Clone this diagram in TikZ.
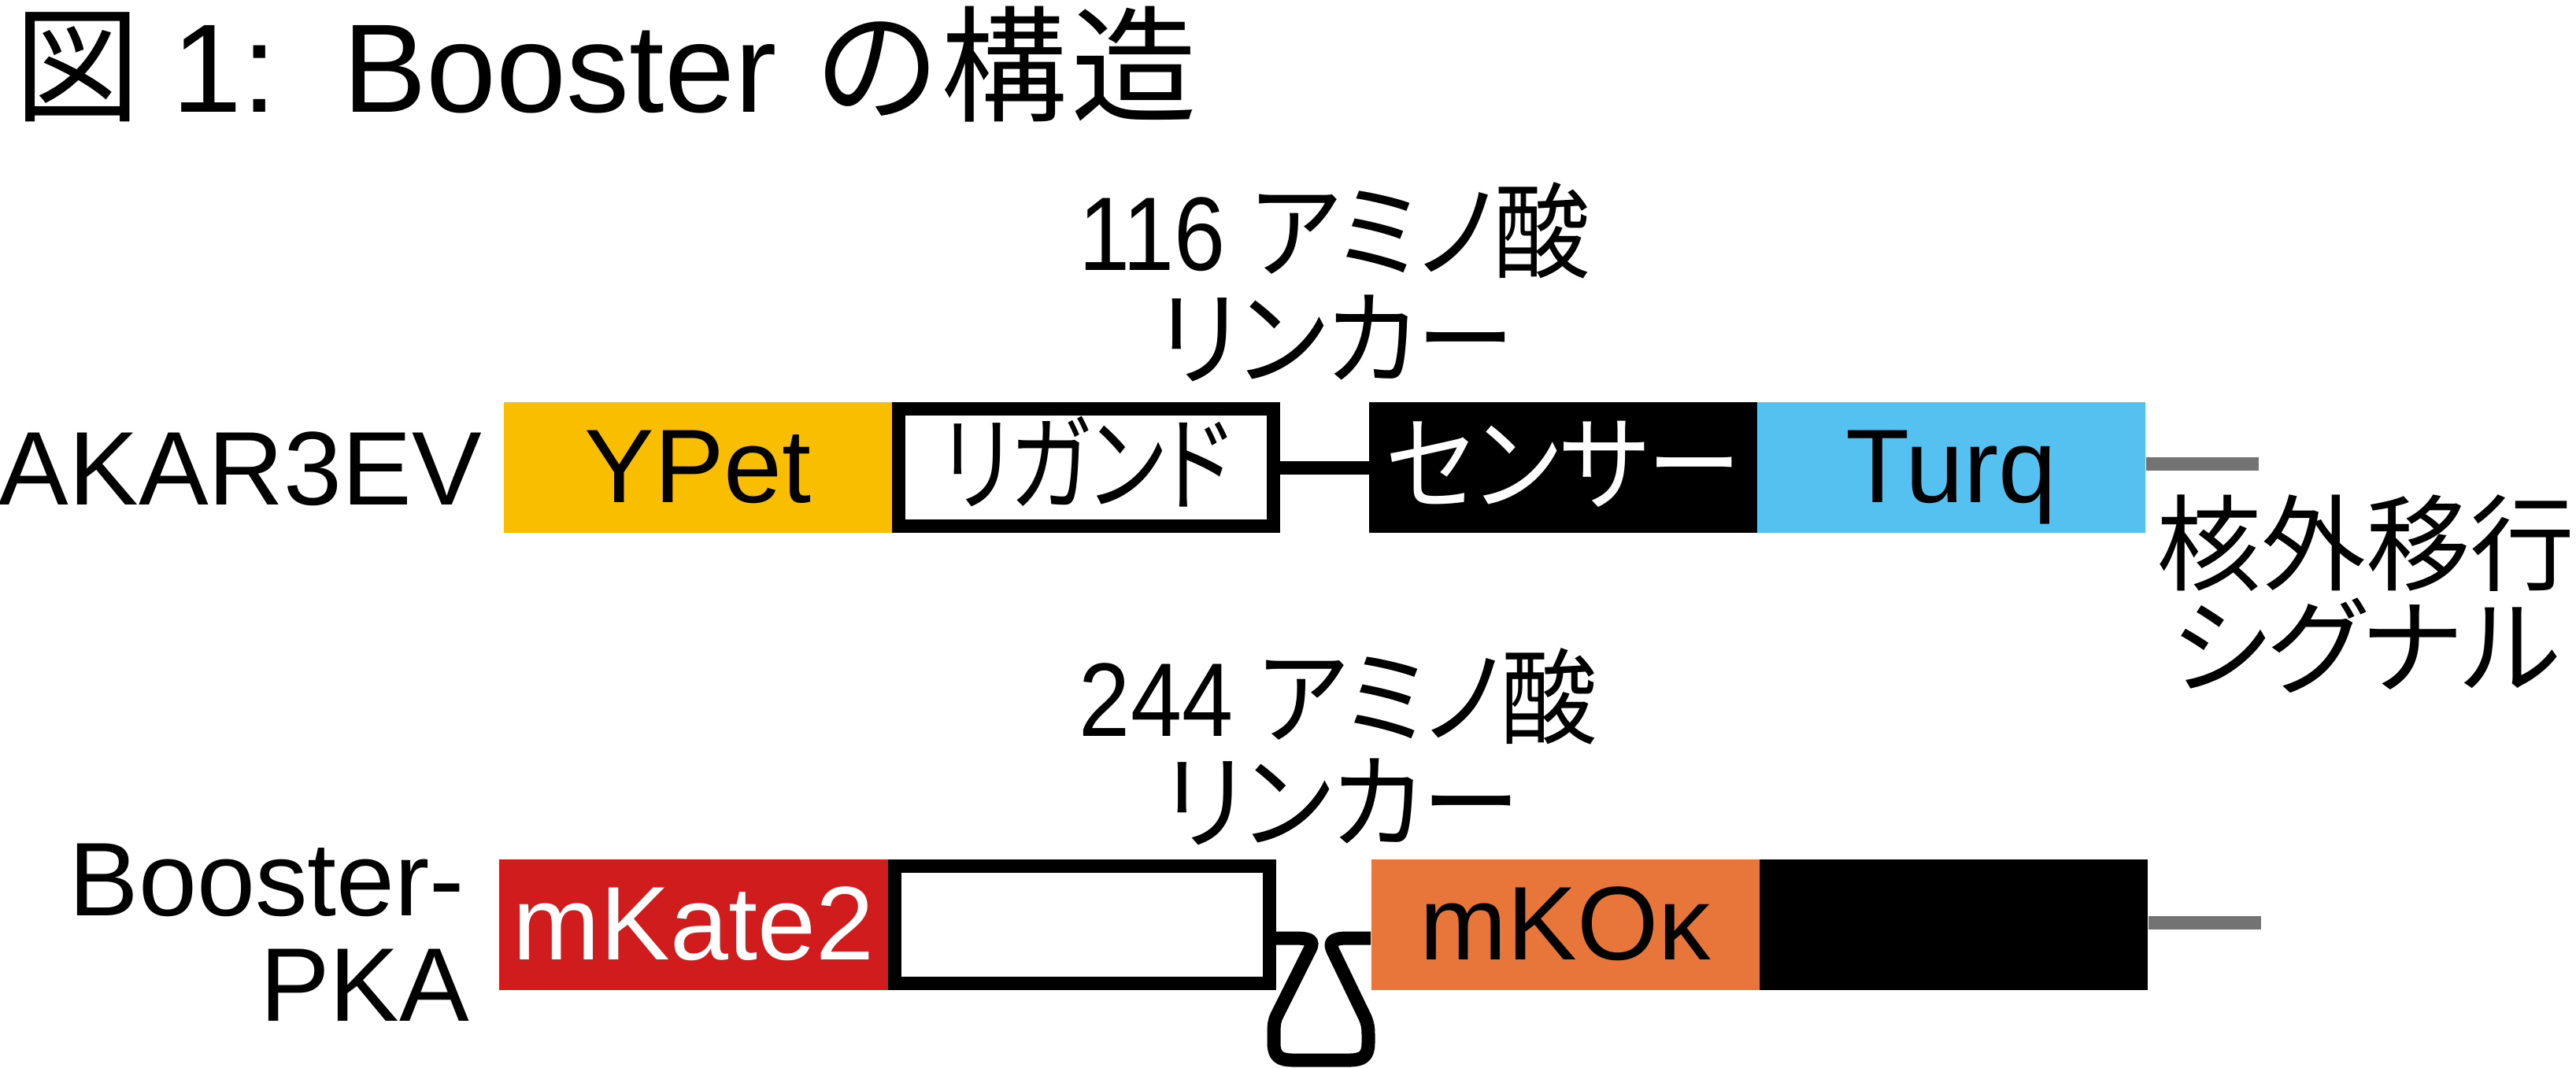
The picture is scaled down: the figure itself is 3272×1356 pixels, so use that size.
\documentclass[tikz,border=0pt]{standalone}
\usepackage{graphicx}
\usepackage{fontspec}
\setmainfont{Liberation Sans}
\newfontfamily\jp[RawFeature=+palt]{Noto Sans CJK JP}
\usetikzlibrary{calc}
\newcommand\lblfont{\fontsize{37.8}{40}\selectfont}
\newcommand\ttlfont{\fontsize{45.5}{48}\selectfont}
\newcommand\narrow[2]{\scalebox{#1}[1]{#2}}
\definecolor{ypetc}{RGB}{249,190,0}
\definecolor{turqc}{RGB}{85,193,240}
\definecolor{kate}{RGB}{208,28,28}
\definecolor{mkoc}{RGB}{232,118,58}
\definecolor{sigc}{RGB}{115,115,115}
\tikzset{
  box/.style={rectangle, minimum width=4.93cm, minimum height=1.66cm, inner sep=0pt,
              text height=0.88cm, text depth=0pt, font=\lblfont},
  obox/.style={box, draw=black, line width=0.17cm, fill=white,
               minimum width=4.76cm, minimum height=1.49cm},
  lbl/.style={inner sep=0pt, font=\lblfont},
  link/.style={line width=0.17cm, line join=round},
  sig/.style={line width=0.17cm, draw=sigc},
}
\begin{document}
\begin{tikzpicture}[x=0.01cm, y=-0.01cm]
\useasboundingbox (0,0) rectangle (3272,1356);
% title
\node[anchor=base west, inner sep=0pt, font=\ttlfont] (title) at (18,142)
  {{\jp 図}\hspace{0.40cm}1:\hspace{0.83cm}Booster\hspace{0.5cm}{\jp の\hspace{0.05cm}構\hspace{0.05cm}造}};
% top row
\node[box, fill=ypetc] (ypet) at (886.5,594) {YPet};
\node[obox] (lig) at (1379.5,594) {\narrow{0.8}{\jp リガンド}};
\node[box, fill=black, text=white] (sen) at (1986,594) {\narrow{0.9}{\jp センサー}};
\node[box, fill=turqc] (turq) at (2478.5,594) {Turq};
\draw[link] (lig.east) -- (sen.west);
\coordinate (tsig) at (2869,589.5);
\draw[sig] (turq.east |- tsig) -- (tsig);
\node[lbl, anchor=base west] (akar) at (-2,641) {AKAR3EV};
\node[lbl, anchor=base] (tl1) at (1695,343) {\narrow{0.88}{116}\hspace{0.32cm}\narrow{0.92}{\jp アミノ酸}};
\node[lbl, anchor=base] (tl2) at (1697,479) {\narrow{0.94}{\jp リンカー}};
\node[lbl, anchor=base] (nes1) at (3005,740) {\jp 核外移行};
\node[lbl, anchor=base] (nes2) at (3005,871) {\jp シグナル};
% bottom row
\node[box, fill=kate, text=white] (mk2) at (881,1175) {mKate2};
\node[obox] (wb) at (1374.5,1175) {};
\node[box, fill=mkoc] (mko) at (1988.5,1175) {mKOκ};
\node[box, fill=black] (blk) at (2481.5,1175) {};
\draw[link] ($(wb.east)+(0,17)$) -- (1645,1192)
  .. controls (1668,1192) and (1669,1197) .. (1663,1208)
  -- (1622,1290)
  .. controls (1618,1298) and (1618,1305) .. (1618,1315)
  -- (1618,1325)
  .. controls (1618,1342) and (1625,1347) .. (1642,1347)
  -- (1714,1347)
  .. controls (1731,1347) and (1738,1342) .. (1738,1325)
  -- (1738,1315)
  .. controls (1738,1305) and (1737,1300) .. (1734,1293)
  -- (1693,1208)
  .. controls (1688,1197) and (1692,1192) .. (1712,1192)
  -- ($(mko.west)+(0,17)$);
\coordinate (bsig) at (2872,1172.5);
\draw[sig] (blk.east |- bsig) -- (bsig);
\node[lbl, anchor=base east] (bpka1) at (591,1163) {Booster-};
\node[lbl, anchor=base east] (bpka2) at (597,1297) {PKA};
\node[lbl, anchor=base] (bl1) at (1700,935) {\narrow{0.88}{244}\hspace{0.32cm}\narrow{0.92}{\jp アミノ酸}};
\node[lbl, anchor=base] (bl2) at (1704,1068) {\narrow{0.94}{\jp リンカー}};
\end{tikzpicture}
\end{document}
